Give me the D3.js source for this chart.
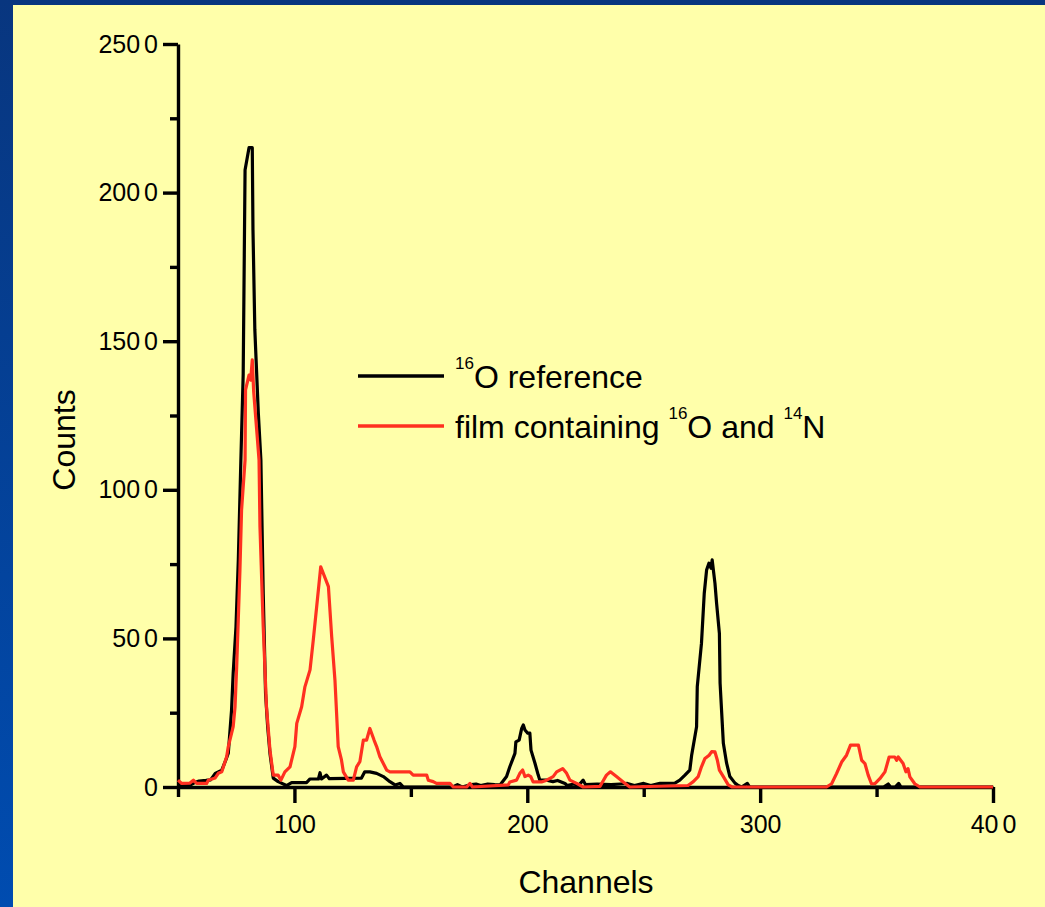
<!DOCTYPE html>
<meta charset="utf-8">
<title>Counts vs Channels</title>
<head>
    <script src="https://cdn.jsdelivr.net/npm/d3@7"></script>
</head>
<body style="margin: 0px">
<script>

    // tick values
    var xMajorTicks = [100, 200, 300, 400],
        xMinorTicks = [50, 150, 250, 350],
        yMajorTicks = [0, 500, 1000, 1500, 2000, 2500],
        yMinorTicks = [250, 750, 1250, 1750, 2250];

    // [channel, counts]
    var referenceSeries = [
        [50, 4], [55, 6], [57, 14], [59, 20], [62, 22], [64, 24], [66, 46], [68.8, 57], [70.5, 90],
        [71.6, 114], [73, 259], [73.7, 383], [74.9, 539], [75.9, 764], [77, 1100], [78, 1390],
        [78.8, 2076], [80.5, 2151], [81.9, 2151], [82.2, 1874], [83, 1538], [84.5, 1257], [85.6, 1100],
        [86.6, 652], [87.6, 315], [88.5, 203], [89.5, 113], [90.9, 30], [93, 18], [96.6, 5], [98.8, 15],
        [105.2, 15], [106.7, 27], [110.3, 27], [111, 48], [111.6, 27], [113.8, 40], [115, 28],
        [128.8, 30], [130.2, 51], [132.4, 51], [135.3, 46], [138.2, 35], [141, 18], [143.2, 7],
        [145.3, 12], [146.8, 0], [168, 0], [170, 8], [172, 0], [176, 8], [178, 10], [180, 5],
        [183, 10], [186, 8], [188.3, 7], [191.1, 35], [192.5, 68], [194.7, 113], [195.1, 152],
        [196.5, 158], [197.6, 197], [198.3, 209], [199, 192], [200.2, 181], [201.1, 181], [201.6, 124],
        [203.3, 80], [204.7, 40], [205.4, 23], [208.3, 23], [211, 18], [213, 22], [216.2, 12], [217, 5],
        [220, 10], [222, 5], [224, 23], [225, 8], [230, 10], [236, 8], [240, 10], [243, 12], [246, 5],
        [250, 12], [253, 5], [257, 12], [263.4, 13], [265.5, 23], [267.7, 40], [269.8, 57], [270.6, 108],
        [272.7, 203], [273, 338], [274.8, 483], [276, 652], [277, 730], [278, 753], [278.9, 736],
        [279.4, 764], [280.6, 685], [281.3, 618], [282.5, 517], [282.8, 349], [284.2, 147], [285.6, 80],
        [287, 35], [289.2, 13], [290.6, 5], [292, 0], [294.5, 12], [295.5, 0], [353, 0], [355, 10],
        [356, 0], [358, 0], [359.5, 12], [360.5, 0], [400, 0]
    ];

    var filmSeries = [
        [50, 23], [51.6, 12], [55, 13], [56.6, 23], [58, 12], [62.3, 12], [63, 23], [65.9, 30], [67.3, 46],
        [68.8, 51], [70.9, 102], [71.6, 136], [73.7, 203], [74.5, 270], [75.2, 405], [76.6, 730],
        [77.3, 932], [78.8, 1100], [79, 1336], [80.5, 1386], [81.2, 1369], [81.9, 1437], [82.5, 1330],
        [83.8, 1201], [84.8, 1100], [85.2, 876], [86.6, 539], [88, 270], [89.5, 124], [90.9, 40],
        [93, 40], [94.2, 23], [95.9, 51], [98.1, 68], [100.2, 136], [101, 214], [103.1, 270],
        [104.5, 337], [106.7, 394], [108.1, 495], [111.3, 741], [114.6, 674], [116, 506], [117.4, 360],
        [118.1, 249], [118.8, 136], [120.2, 91], [121, 51], [123.1, 23], [125.3, 23], [126.7, 68],
        [128.1, 85], [129.6, 158], [131, 158], [132.4, 197], [134.2, 158], [135.3, 136], [136.7, 102],
        [139.6, 57], [141, 51], [149.6, 51], [151, 40], [156.8, 40], [157.5, 23], [159.6, 18], [161, 12],
        [166.8, 12], [168.2, 0], [174, 0], [175.4, 12], [176.5, 0], [191.8, 7], [192.5, 17], [195.4, 23],
        [196.8, 46], [198, 57], [199, 35], [200.4, 40], [201.5, 35], [202.5, 17], [206.1, 17], [208.3, 23],
        [211.1, 35], [212.6, 51], [215.2, 62], [216.9, 46], [218.3, 23], [221.2, 12], [224, 0],
        [231.2, 2], [232.3, 17], [234, 40], [235.7, 51], [238.3, 35], [241.2, 17], [244, 0], [269, 5],
        [271.3, 18], [273.4, 35], [274.8, 68], [276.3, 96], [278.1, 107], [279.2, 119], [280.6, 118],
        [281.6, 91], [282.5, 57], [284.2, 35], [286.3, 7], [288, 0], [328.5, 0], [330.7, 11], [332.8, 45],
        [335, 84], [337.1, 107], [338.8, 141], [342.2, 141], [343.6, 90], [345, 79], [346.4, 40],
        [347.8, 11], [349.3, 11], [351.4, 28], [353.6, 51], [355.4, 101], [357.8, 101], [358.6, 90],
        [359.3, 101], [361.4, 79], [362.6, 51], [363.5, 62], [364.3, 34], [366.4, 11], [368.6, 0], [400, 0]
    ];

    // legend text pieces: [text, isSuperscript]
    var referenceLabel = [["16", true], ["O reference", false]];
    var filmLabel = [["film containing ", false], ["16", true], ["O and ", false], ["14", true], ["N", false]];

    var width = 1045,
        height = 907,
        font = "'Liberation Sans', Arial, sans-serif",
        red = "#ff3020";

    var svg = d3.select("body").append("svg")
        .attr("width", width)
        .attr("height", height)
        .style("display", "block");

    var grad = svg.append("defs").append("linearGradient")
        .attr("id", "frame").attr("x1", 0).attr("y1", 0).attr("x2", 0).attr("y2", 1);
    grad.append("stop").attr("offset", 0).attr("stop-color", "#08367f");
    grad.append("stop").attr("offset", 1).attr("stop-color", "#004cb0");

    svg.append("rect").attr("width", width).attr("height", height).attr("fill", "url(#frame)");
    svg.append("rect").attr("x", 13).attr("y", 5)
        .attr("width", width - 13).attr("height", height - 5)
        .attr("fill", "#ffffaa");

    var x = d3.scaleLinear().domain([50, 400]).range([178, 993]);
    var y = d3.scaleLinear().domain([0, 2500]).range([787, 44]);

    // labels drawn with a small gap before the last digit, like the original
    function gapLabels(sel, gapped) {
        sel.selectAll(".tick text").each(function (d) {
            var t = d3.select(this), s = String(d);
            if (gapped.indexOf(d) < 0) return;
            t.text(null);
            t.append("tspan").text(s.slice(0, -1));
            t.append("tspan").attr("dx", 4).text(s.slice(-1));
        });
    }

    function styleAxis(g) {
        g.attr("font-family", font).attr("font-size", 25);
        g.selectAll("path, line").style("stroke", "#000").style("stroke-width", "3.4px");
        g.selectAll("text").attr("fill", "#000");
    }

    var xMinor = svg.append("g").attr("transform", "translate(0,787)")
        .call(d3.axisBottom(x).tickValues(xMinorTicks).tickSize(10).tickFormat(""));
    xMinor.select(".domain").remove();
    styleAxis(xMinor);

    var yMinor = svg.append("g").attr("transform", "translate(178,0)")
        .call(d3.axisLeft(y).tickValues(yMinorTicks).tickSize(8).tickFormat(""));
    yMinor.select(".domain").remove();
    styleAxis(yMinor);

    var xAxis = svg.append("g").attr("transform", "translate(0,787)")
        .call(d3.axisBottom(x).tickValues(xMajorTicks).tickSize(16).tickPadding(12).tickSizeOuter(0));
    styleAxis(xAxis);
    gapLabels(xAxis, [400]);

    var yAxis = svg.append("g").attr("transform", "translate(178,0)")
        .call(d3.axisLeft(y).tickValues(yMajorTicks).tickSize(15).tickPadding(5).tickSizeOuter(0));
    styleAxis(yAxis);
    gapLabels(yAxis, [500, 1000, 1500, 2000, 2500]);

    var line = d3.line()
        .x(function (d) { return x(d[0]); })
        .y(function (d) { return y(d[1]); });

    svg.append("path").datum(referenceSeries)
        .attr("d", line)
        .attr("fill", "none").attr("stroke", "#000").attr("stroke-width", 3.2)
        .attr("stroke-linejoin", "round");

    svg.append("path").datum(filmSeries)
        .attr("d", line)
        .attr("fill", "none").attr("stroke", red).attr("stroke-width", 3.2)
        .attr("stroke-linejoin", "round");

    // axis titles
    svg.append("text")
        .attr("x", 586).attr("y", 893)
        .attr("text-anchor", "middle")
        .attr("font-family", font).attr("font-size", 32)
        .text("Channels");

    svg.append("text")
        .attr("transform", "translate(75,440) rotate(-90)")
        .attr("text-anchor", "middle")
        .attr("font-family", font).attr("font-size", 32)
        .text("Counts");

    // legend
    var legend = [
        {label: referenceLabel, color: "#000", y: 376},
        {label: filmLabel, color: red, y: 426}
    ];

    legend.forEach(function (item) {
        svg.append("line")
            .attr("x1", 358).attr("x2", 444)
            .attr("y1", item.y).attr("y2", item.y)
            .attr("stroke", item.color).attr("stroke-width", 3.4);

        var t = svg.append("text")
            .attr("x", 455).attr("y", item.y + 12)
            .attr("font-family", font).attr("font-size", 32);
        var raised = false;
        item.label.forEach(function (p) {
            var sp = t.append("tspan").text(p[0]);
            if (p[1]) {
                sp.attr("font-size", 17).attr("dy", raised ? 0 : -19);
                raised = true;
            } else {
                if (raised) sp.attr("dy", 19);
                raised = false;
            }
        });
    });

</script>
